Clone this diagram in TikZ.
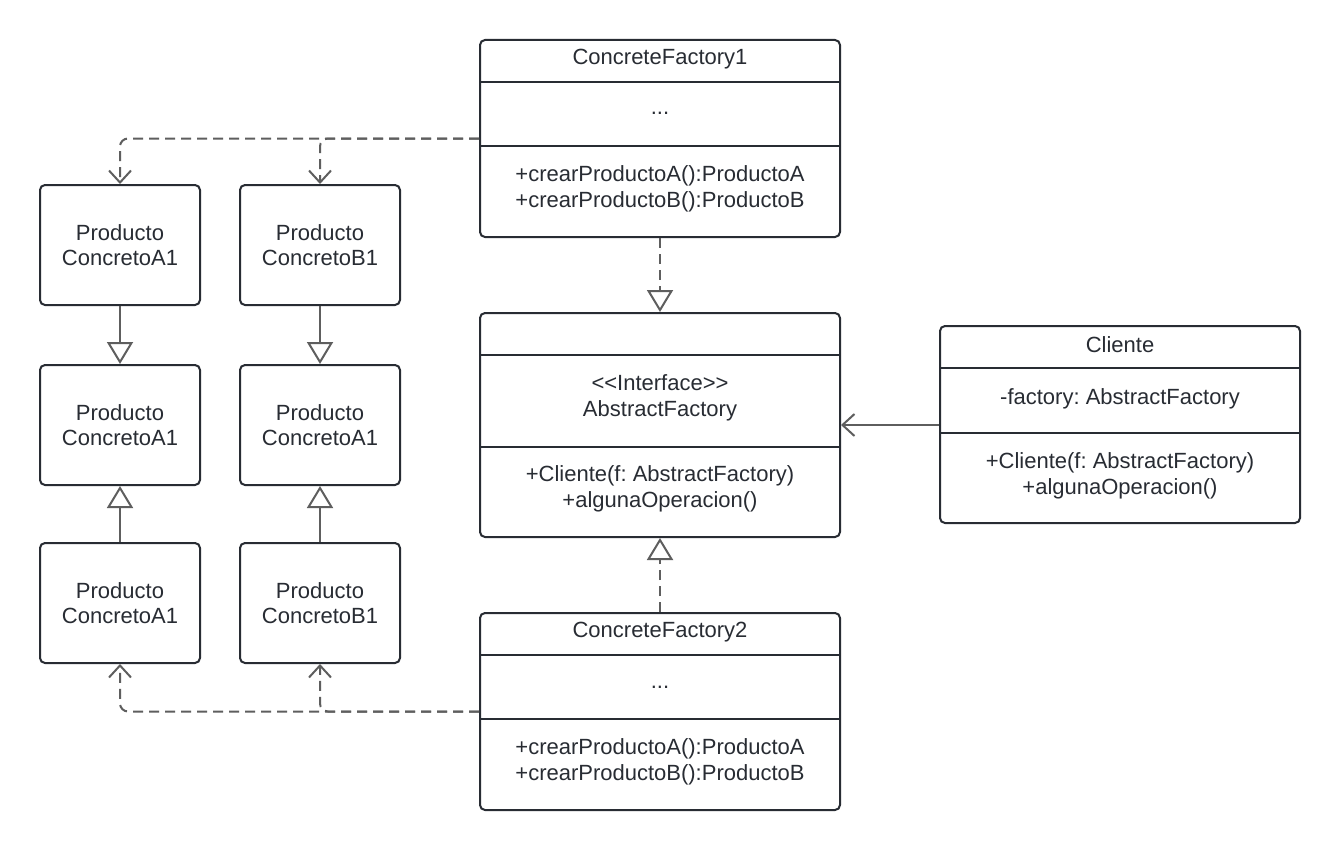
\documentclass[tikz,border=0pt]{standalone}
\usepackage{fontspec}
\setmainfont{Liberation Sans}
\usetikzlibrary{arrows.meta,calc}
\definecolor{boxc}{HTML}{282C33}
\definecolor{linec}{HTML}{5E5E5E}
\definecolor{txtc}{HTML}{282C33}
\newcommand{\fsz}{\fontsize{22}{25.5}\selectfont}
\frenchspacing
\begin{document}
\begin{tikzpicture}[x=1pt,y=-1pt,
  box/.style={draw=boxc, line width=2pt, rounded corners=5pt, minimum width=160pt, minimum height=120pt, inner sep=0pt, text=txtc, font=\fsz, align=center},
  cls/.style={draw=boxc, line width=2pt, rounded corners=5pt, minimum width=360pt, inner sep=0pt},
  lbl/.style={text=txtc, font=\fsz, align=center, inner sep=0pt},
  div/.style={draw=boxc, line width=2pt},
  gen/.style={draw=linec, line width=2pt, -{Triangle[open, width=26pt, length=22pt]}},
  real/.style={gen, dash pattern=on 10pt off 6pt},
  dep/.style={draw=linec, line width=2pt, dash pattern=on 10pt off 6pt, rounded corners=8pt, -{Straight Barb[width=22pt, length=12pt]}},
  assoc/.style={draw=linec, line width=2pt, -{Straight Barb[width=22pt, length=12pt]}}
]
\useasboundingbox (0,0) rectangle (1340,851);
\fill[white] (0,0) rectangle (1340,851);

% product boxes
\node[box] (pa1) at (120,245) {Producto\\ConcretoA1};
\node[box] (pb1) at (320,245) {Producto\\ConcretoB1};
\node[box] (pa2) at (120,425) {Producto\\ConcretoA1};
\node[box] (pb2) at (320,425) {Producto\\ConcretoA1};
\node[box] (pa3) at (120,603) {Producto\\ConcretoA1};
\node[box] (pb3) at (320,603) {Producto\\ConcretoB1};

% ConcreteFactory1
\node[cls, minimum height=197pt] (cf1) at (660,138.5) {};
\draw[div] (cf1.west |- 0,82) -- (cf1.east |- 0,82);
\draw[div] (cf1.west |- 0,146) -- (cf1.east |- 0,146);
\node[lbl] (cf1t) at (660,59) {ConcreteFactory1};
\node[lbl] (cf1a) at (660,113) {...};
\node[lbl] (cf1m) at (660,189) {+crearProductoA():ProductoA\\+crearProductoB():ProductoB};

% AbstractFactory
\node[cls, minimum height=224pt] (af) at (660,425) {};
\draw[div] (af.west |- 0,355) -- (af.east |- 0,355);
\draw[div] (af.west |- 0,447) -- (af.east |- 0,447);
\node[lbl] (aft) at (660,398) {<{}<Interface>{}>\\AbstractFactory};
\node[lbl] (afm) at (660,489) {+Cliente(f: AbstractFactory)\\+algunaOperacion()};

% Cliente
\node[cls, minimum height=197pt] (cl) at (1120,424.5) {};
\draw[div] (cl.west |- 0,368) -- (cl.east |- 0,368);
\draw[div] (cl.west |- 0,433) -- (cl.east |- 0,433);
\node[lbl] (clt) at (1120,345) {Cliente};
\node[lbl] (cla) at (1120,399) {-factory: AbstractFactory};
\node[lbl] (clm) at (1120,476) {+Cliente(f: AbstractFactory)\\+algunaOperacion()};

% ConcreteFactory2
\node[cls, minimum height=197pt] (cf2) at (660,711.5) {};
\draw[div] (cf2.west |- 0,655) -- (cf2.east |- 0,655);
\draw[div] (cf2.west |- 0,719) -- (cf2.east |- 0,719);
\node[lbl] (cf2t) at (660,632) {ConcreteFactory2};
\node[lbl] (cf2a) at (660,687) {...};
\node[lbl] (cf2m) at (660,762) {+crearProductoA():ProductoA\\+crearProductoB():ProductoB};

% connectors
\draw[gen] (pa1.south) -- (pa2.north);
\draw[gen] (pb1.south) -- (pb2.north);
\draw[gen] (pa3.north) -- (pa2.south);
\draw[gen] (pb3.north) -- (pb2.south);
\draw[real] (cf1.south) -- (af.north);
\draw[real] (cf2.north) -- (af.south);
\draw[assoc] (cl.west |- 0,425) -- (af.east);
\draw[dep] (cf1.west) -| (pa1.north);
\draw[dep] (cf1.west) -| (pb1.north);
\draw[dep] (cf2.west) -| (pa3.south);
\draw[dep] (cf2.west) -| (pb3.south);
\end{tikzpicture}
\end{document}
